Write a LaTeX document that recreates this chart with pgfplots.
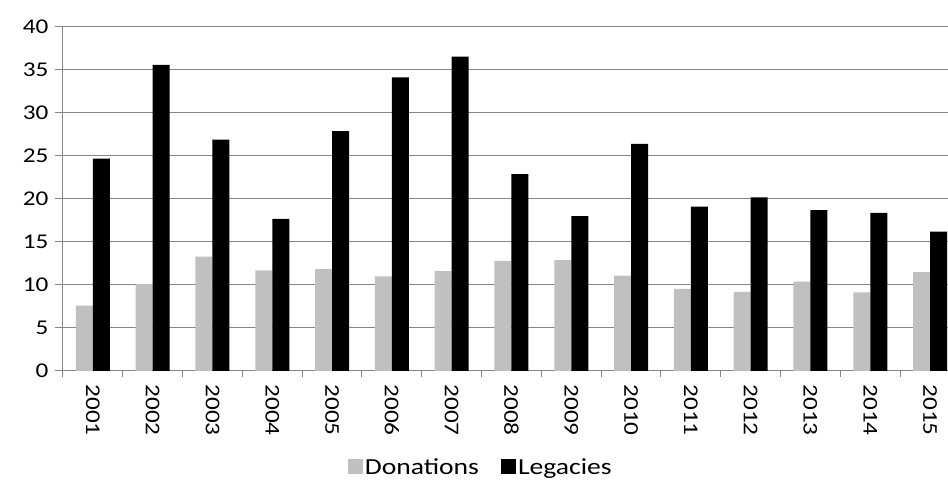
\documentclass[border=0pt]{standalone}
\usepackage{fontspec}
\setmainfont{Carlito}[FakeStretch=1.2]
\usepackage{pgfplots}
\pgfplotsset{compat=1.18}
\definecolor{don}{RGB}{192,192,192}
\definecolor{gridc}{RGB}{134,134,134}
\begin{document}
\begin{tikzpicture}
\begin{axis}[
  scale only axis,
  width=885pt, height=344pt,
  ybar=0pt, bar width=17pt,
  xmin=-0.5, xmax=14.3,
  ymin=0, ymax=40,
  ytick={0,5,...,40},
  xtick={0,...,14},
  xticklabels={2001,2002,2003,2004,2005,2006,2007,2008,2009,2010,2011,2012,2013,2014,2015},
  minor xtick={-0.5,0.5,...,14.5},
  axis x line*=bottom, axis y line*=left,
  axis line style={draw=gridc, line width=1pt, -},
  ymajorgrids, grid style={draw=gridc, line width=1pt},
  tick align=outside,
  major tick length=8pt, minor tick length=6pt,
  xtick style={draw=none},
  ytick style={draw=gridc, line width=1pt},
  minor x tick style={draw=gridc, line width=1pt},
  /pgf/number format/assume math mode=true,
  ticklabel style={font=\fontsize{21}{25}\selectfont, text=black},
  yticklabel style={xshift=-3pt},
  xticklabel style={rotate=-90, anchor=west, xshift=2pt},
  legend style={at={(0.472,-0.28)}, anchor=center, draw=none, fill=none,
    legend columns=2, font=\fontsize{23}{27}\selectfont,
    /tikz/every even column/.append style={column sep=20pt}},
  legend image code/.code={\fill[#1] (0pt,-7pt) rectangle (15pt,8pt);},
]
\addplot[fill=don, draw=none] coordinates {
(0,7.6) (1,10.1) (2,13.3) (3,11.7) (4,11.85) (5,11.0) (6,11.6) (7,12.8)
(8,12.9) (9,11.1) (10,9.56) (11,9.2) (12,10.4) (13,9.15) (14,11.5)};
\addplot[fill=black, draw=none] coordinates {
(0,24.7) (1,35.6) (2,26.9) (3,17.7) (4,27.9) (5,34.15) (6,36.55) (7,22.9)
(8,18.0) (9,26.4) (10,19.1) (11,20.2) (12,18.7) (13,18.4) (14,16.2)};
\legend{Donations,Legacies}
\end{axis}
\pgfresetboundingbox
\path[use as bounding box] ([xshift=-63pt,yshift=-110pt]current axis.south west) rectangle ([yshift=27pt]current axis.north east);
\end{tikzpicture}
\end{document}
